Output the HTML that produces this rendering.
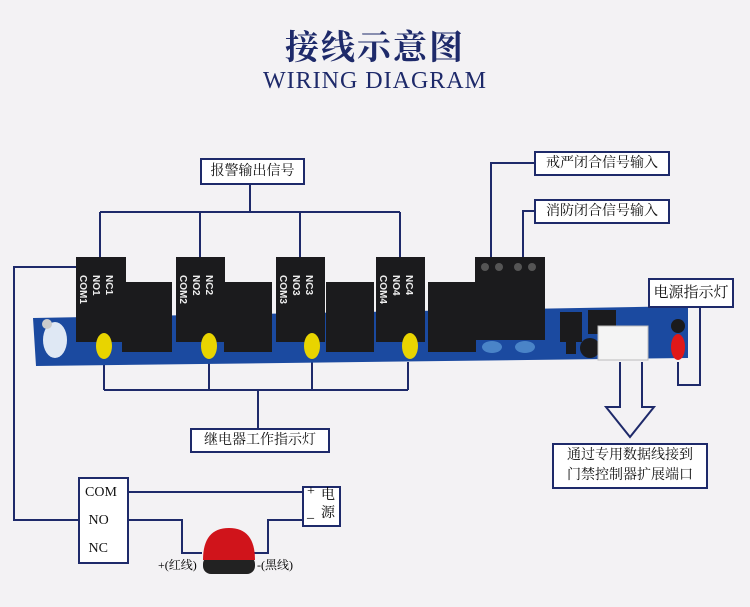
<!DOCTYPE html>
<html><head><meta charset="utf-8"><style>
body{margin:0;width:750px;height:607px;background:#f3f2f4;overflow:hidden;position:relative;font-family:"Liberation Serif","Noto Serif CJK SC",serif}
.t{position:absolute;white-space:nowrap}
.box{position:absolute;border:2px solid #1e2a6a;background:#fff;box-sizing:border-box;font-family:"Liberation Serif","Noto Serif CJK SC",serif;font-size:14px;color:#111;text-align:center}
</style></head><body>
<div class="t" style="left:0;width:750px;text-align:center;top:25px;line-height:40px;height:40px;font-size:34px;color:#1e2a6a;font-family:'Noto Serif CJK SC',serif;font-weight:bold;letter-spacing:2px">接线示意图</div>
<div class="t" style="left:0;width:750px;text-align:center;top:68px;line-height:26px;font-size:24px;color:#1e2a6a;letter-spacing:1px">WIRING DIAGRAM</div>

<svg width="750" height="607" style="position:absolute;left:0;top:0">
<g fill="none" stroke="#1e2a6a" stroke-width="2">
<path d="M250 184V212M100 212H400M100 212V258M200 212V258M300 212V258M400 212V258"/>
<path d="M534 163H491V258M534 211H523V258"/>
<path d="M700 307V385H678V362"/>
<path d="M104 362V390M209 362V390M312 362V390M408 362V390M104 390H408M258 390V428"/>
<path d="M78 267H14V520H78"/>
<path d="M128 492H302M128 520H182V553H202M254 553H268V520H302"/>
<path d="M620 362V407H606L630 437L654 407H642V362"/>
</g>
<polygon points="33,318 688,306 688,358 36,366" fill="#1b4aa0"/>
<ellipse cx="55" cy="340" rx="12" ry="18" fill="#dfe8f4"/>
<circle cx="47" cy="324" r="5" fill="#ccc"/>
<g fill="#1b1b1d">
<rect x="122" y="282" width="50" height="70"/><rect x="224" y="282" width="48" height="70"/>
<rect x="326" y="282" width="48" height="70"/><rect x="428" y="282" width="48" height="70"/>
<rect x="76" y="257" width="50" height="85"/><rect x="176" y="257" width="49" height="85"/>
<rect x="276" y="257" width="49" height="85"/><rect x="376" y="257" width="49" height="85"/>
<rect x="475" y="257" width="70" height="83"/>
<rect x="560" y="312" width="22" height="30"/><rect x="588" y="310" width="28" height="24"/>
<circle cx="590" cy="348" r="10"/><rect x="566" y="340" width="10" height="14"/>
<circle cx="678" cy="326" r="7"/>
</g>
<g fill="#555"><circle cx="485" cy="267" r="4"/><circle cx="499" cy="267" r="4"/><circle cx="518" cy="267" r="4"/><circle cx="532" cy="267" r="4"/></g>
<g fill="#eee" font-family="Liberation Sans" font-size="10" font-weight="bold">
<text transform="translate(80,275) rotate(90)">COM1</text><text transform="translate(93,275) rotate(90)">NO1</text><text transform="translate(106,275) rotate(90)">NC1</text>
<text transform="translate(180,275) rotate(90)">COM2</text><text transform="translate(193,275) rotate(90)">NO2</text><text transform="translate(206,275) rotate(90)">NC2</text>
<text transform="translate(280,275) rotate(90)">COM3</text><text transform="translate(293,275) rotate(90)">NO3</text><text transform="translate(306,275) rotate(90)">NC3</text>
<text transform="translate(380,275) rotate(90)">COM4</text><text transform="translate(393,275) rotate(90)">NO4</text><text transform="translate(406,275) rotate(90)">NC4</text>
</g>
<g fill="#4a84c8"><ellipse cx="492" cy="347" rx="10" ry="6"/><ellipse cx="525" cy="347" rx="10" ry="6"/></g>
<rect x="598" y="326" width="50" height="34" fill="#f4f4f4" stroke="#bbb"/>
<g fill="#e8d400"><ellipse cx="104" cy="346" rx="8" ry="13"/><ellipse cx="209" cy="346" rx="8" ry="13"/><ellipse cx="312" cy="346" rx="8" ry="13"/><ellipse cx="410" cy="346" rx="8" ry="13"/></g>
<ellipse cx="678" cy="347" rx="7" ry="13" fill="#e01818"/>
<rect x="203" y="556" width="52" height="18" rx="8" fill="#222"/>
<path d="M203 560 Q203 528 229 528 Q255 528 255 560 Z" fill="#d0141b"/>
</svg>

<div class="box" style="left:200px;top:158px;width:105px;height:27px;line-height:23px">报警输出信号</div>
<div class="box" style="left:534px;top:151px;width:136px;height:25px;line-height:21px">戒严闭合信号输入</div>
<div class="box" style="left:534px;top:199px;width:136px;height:25px;line-height:21px">消防闭合信号输入</div>
<div class="box" style="left:648px;top:278px;width:86px;height:30px;line-height:26px;font-size:15px">电源指示灯</div>
<div class="box" style="left:190px;top:428px;width:140px;height:25px;line-height:21px">继电器工作指示灯</div>
<div class="box" style="left:552px;top:443px;width:156px;height:46px;line-height:20px;padding-top:1px">通过专用数据线接到<br>门禁控制器扩展端口</div>
<div class="box" style="left:78px;top:477px;width:51px;height:87px;text-align:left;font-size:14px;line-height:28px;padding-left:5px">COM<br>&nbsp;NO<br>&nbsp;NC</div>
<div class="box" style="left:302px;top:486px;width:39px;height:41px;"></div>
<div class="t" style="left:307px;top:484px;font-size:14px">+</div>
<div class="t" style="left:307px;top:506px;font-size:14px">_</div>
<div class="t" style="left:321px;top:487px;font-size:14px;line-height:18px">电<br>源</div>
<div class="t" style="left:158px;top:556px;font-size:12px">+(红线)</div>
<div class="t" style="left:257px;top:556px;font-size:12px">-(黑线)</div>
</body></html>
